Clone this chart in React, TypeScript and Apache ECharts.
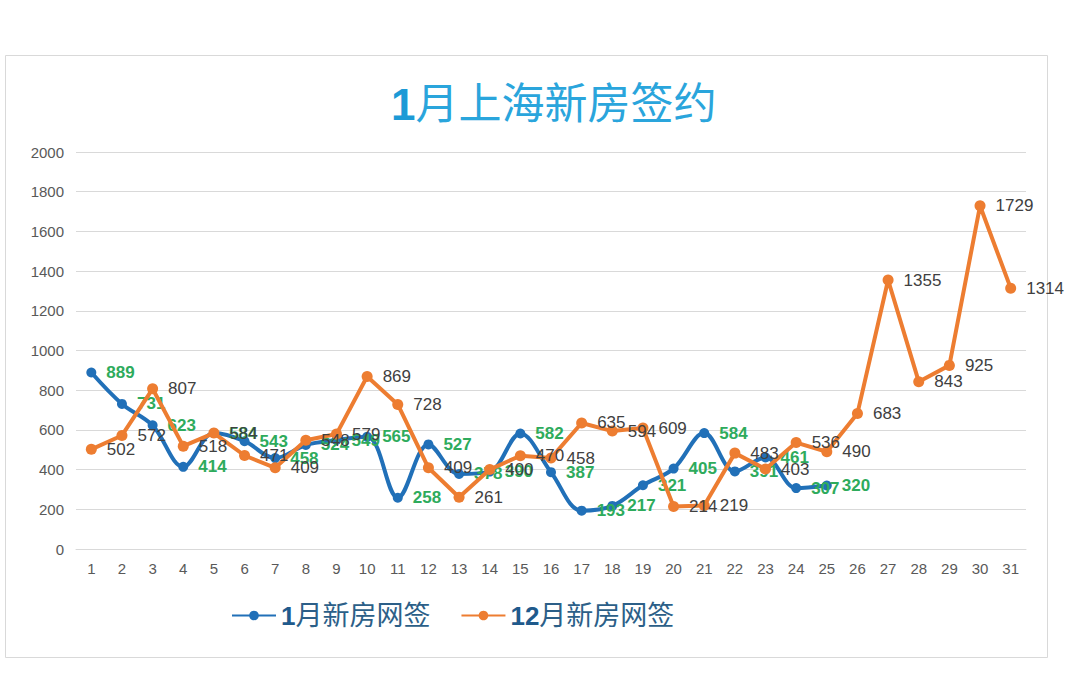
import React, { useEffect, useRef } from "react";
import * as echarts from "echarts";

const days = Array.from({ length: 31 }, (_, i) => String(i + 1));
const janValues = [889, 731, 623, 414, 584, 543, 458, 524, 549, 565, 258, 527, 378, 390, 582, 387, 193, 217, 321, 405, 584, 391, 461, 307, 320];
const decValues = [502, 572, 807, 518, 584, 471, 409, 548, 579, 869, 728, 409, 261, 400, 470, 458, 635, 594, 609, 214, 219, 483, 403, 536, 490, 683, 1355, 843, 925, 1729, 1314];
const seriesNames = ["1月新房网签", "12月新房网签"];
const titleText = "1月上海新房签约";
const yTicks = { min: 0, max: 2000, interval: 200 };

const FONT = "'Liberation Sans', 'Noto Sans CJK SC', sans-serif";

export default function App() {
  const ref = useRef<HTMLDivElement>(null);
  useEffect(() => {
    if (!ref.current) return;
    const chart = echarts.init(ref.current, null, { renderer: "svg" });
    chart.setOption({
      animation: false,
      backgroundColor: "#ffffff",
      textStyle: { fontFamily: FONT },
      title: {
        text: `{n|1}{t|${titleText.slice(1)}}`,
        left: 386,
        top: 77,
        textStyle: {
          rich: {
            n: { fontFamily: FONT, fontSize: 44, fontWeight: "bold", color: "#1c9ad6" },
            t: { fontFamily: FONT, fontSize: 43, fontWeight: "normal", color: "#2aa5dc" },
          },
        },
      },
      graphic: [
        {
          type: "rect",
          shape: { x: 5.5, y: 55.5, width: 1042, height: 602 },
          style: { fill: "none", stroke: "#d9d9d9", lineWidth: 1 },
          silent: true,
        },
      ],
      legend: {
        bottom: 42,
        left: 226,
        itemGap: 30,
        itemWidth: 44,
        itemHeight: 12,
        data: seriesNames,
        formatter: (name: string) => {
          const m = name.match(/^(\d+)(.*)$/);
          return m ? `{n|${m[1]}}{t|${m[2]}}` : name;
        },
        textStyle: {
          rich: {
            n: { fontFamily: FONT, fontSize: 26, fontWeight: "bold", color: "#1f5a8c" },
            t: { fontFamily: FONT, fontSize: 27, color: "#2c5f88" },
          },
        },
      },
      grid: { left: 76, right: 54, top: 152, bottom: 127, containLabel: false },
      xAxis: {
        type: "category",
        data: days,
        boundaryGap: true,
        axisLine: { show: true, lineStyle: { color: "#d9d9d9", width: 1 } },
        axisTick: { show: false },
        axisLabel: { color: "#595959", fontSize: 15, margin: 12, fontFamily: FONT },
      },
      yAxis: {
        type: "value",
        min: yTicks.min,
        max: yTicks.max,
        interval: yTicks.interval,
        axisLine: { show: false },
        axisTick: { show: false },
        axisLabel: {
          color: "#595959",
          fontSize: 15,
          margin: 12,
          fontFamily: FONT,
          formatter: (v: number) => String(v),
        },
        splitLine: { lineStyle: { color: "#d9d9d9", width: 1 } },
      },
      series: [
        {
          name: seriesNames[0],
          type: "line",
          data: janValues,
          smooth: 0.35,
          symbol: "circle",
          symbolSize: 10,
          lineStyle: { color: "#2170b8", width: 4 },
          itemStyle: { color: "#2170b8" },
          label: {
            show: true,
            position: "right",
            distance: 10,
            color: "#2eab5c",
            fontWeight: "bold",
            fontSize: 17,
            fontFamily: FONT,
          },
          z: 2,
        },
        {
          name: seriesNames[1],
          type: "line",
          data: decValues,
          smooth: false,
          symbol: "circle",
          symbolSize: 11,
          lineStyle: { color: "#ed7d31", width: 4 },
          itemStyle: { color: "#ed7d31" },
          label: {
            show: true,
            position: "right",
            distance: 10,
            color: "#404040",
            fontSize: 17,
            fontFamily: FONT,
          },
          z: 3,
        },
      ],
    });
    return () => chart.dispose();
  }, []);
  return (
    <div
      ref={ref}
      style={{ position: "fixed", left: 0, top: 0, width: 1080, height: 676 }}
    />
  );
}
